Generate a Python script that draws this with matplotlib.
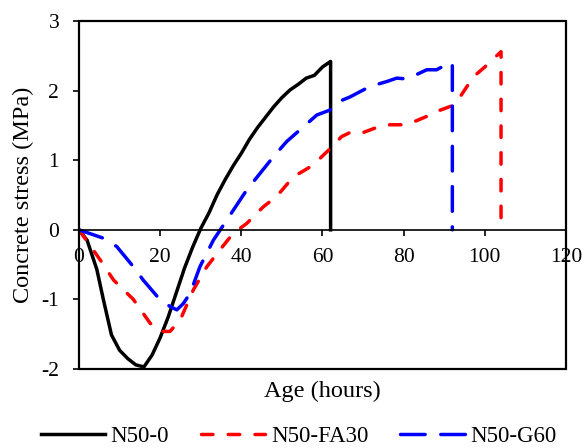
import matplotlib.pyplot as plt
from matplotlib.patches import Rectangle

plt.rcParams['font.family'] = ['Liberation Serif', 'DejaVu Serif']
plt.rcParams['axes.unicode_minus'] = False

# N50-0 (black, solid)
age_n0 = [0, 2, 4.4, 6, 8, 10, 12, 14, 16, 18, 20, 22, 24, 26, 28, 30, 32, 34, 36,
          38, 40, 42, 44, 46, 48, 50, 52, 54, 56, 58, 60, 62, 62]
stress_n0 = [0, -0.15, -0.57, -1.0, -1.51, -1.73, -1.85, -1.94, -1.97, -1.80, -1.55,
             -1.25, -0.90, -0.55, -0.25, 0.02, 0.24, 0.50, 0.72, 0.92, 1.10, 1.30,
             1.47, 1.62, 1.77, 1.90, 2.01, 2.09, 2.18, 2.22, 2.34, 2.42, 0]

# N50-FA30 (red, short dash)
age_fa = [0, 5.2, 8.5, 13.4, 17.5, 20, 22.4, 24.9, 28.2, 31.5, 34.7, 38, 41.3, 45.4,
          48.7, 52.8, 57.7, 59.8, 62.3, 64.7, 67.2, 70.1, 73.3, 76.6, 79.9, 82.4,
          85.7, 88.1, 91.8, 93.9, 97.2, 100, 104, 104]
stress_fa = [0, -0.43, -0.72, -1.0, -1.34, -1.46, -1.46, -1.30, -0.86, -0.53, -0.29,
             -0.05, 0.09, 0.33, 0.48, 0.76, 0.93, 1.05, 1.19, 1.34, 1.41, 1.40, 1.47,
             1.51, 1.51, 1.55, 1.63, 1.70, 1.78, 1.91, 2.20, 2.34, 2.56, 0]

# N50-G60 (blue, long dash)
age_g = [0, 6, 9.3, 13.4, 15.8, 19.9, 22.4, 24.1, 25.7, 27.4, 29.8, 33.1, 38, 41.3,
         44.6, 47.9, 51.2, 55.3, 58.6, 61.8, 63.9, 66.8, 71.7, 75.8, 78.3, 80.3,
         82.4, 85.7, 88.1, 91.4, 92, 92]
stress_g = [0, -0.12, -0.24, -0.53, -0.72, -1.0, -1.10, -1.15, -1.06, -0.91, -0.53,
            -0.15, 0.28, 0.57, 0.81, 1.05, 1.27, 1.48, 1.65, 1.72, 1.84, 1.91, 2.06,
            2.13, 2.18, 2.17, 2.21, 2.30, 2.30, 2.40, 2.40, 0]

fig = plt.figure(figsize=(5.83, 4.48), dpi=100)
ax = fig.add_axes([0.1355, 0.1763, 0.8353, 0.7767])

ax.plot(age_n0, stress_n0, color='black', lw=2.5, label='N50-0')
ax.plot(age_fa, stress_fa, color='red', lw=2.5, dashes=(3.3, 4.4),
        dash_capstyle='round', label='N50-FA30')
ax.plot(age_g, stress_g, color='blue', lw=2.5, dashes=(7.1, 4.5),
        dash_capstyle='round', label='N50-G60')

ax.set_xlim(0, 120)
ax.set_ylim(-2, 3)
ax.set_xticks(range(0, 121, 20))
ax.set_yticks(range(-2, 4))

# x axis crosses at zero, plot area keeps a full border
ax.spines['bottom'].set_position(('data', 0))
for s in ['top', 'right', 'left']:
    ax.spines[s].set_visible(False)
ax.spines['bottom'].set_linewidth(1.2)
ax.add_patch(Rectangle((0, 0), 1, 1, transform=ax.transAxes, fill=False,
                       lw=1.6, edgecolor='black', clip_on=False, zorder=5))
ax.tick_params(direction='out', length=4.3, width=1.2, labelsize=15.5)
ax.tick_params(axis='x', pad=9)
ax.tick_params(axis='y', pad=10)

ax.set_xlabel('Age (hours)', fontsize=17.5)
ax.xaxis.set_label_coords(0.5, -0.035)
ax.set_ylabel('Concrete stress (MPa)', fontsize=17.5)
ax.yaxis.set_label_coords(-0.092, 0.5)

fig.legend(loc='center', bbox_to_anchor=(0.512, 0.025), ncol=3, frameon=False,
           fontsize=16.5, handlelength=2.8, columnspacing=1.4, handletextpad=0.25,
           borderpad=0, borderaxespad=0)

fig.savefig('out.png', dpi=100)
